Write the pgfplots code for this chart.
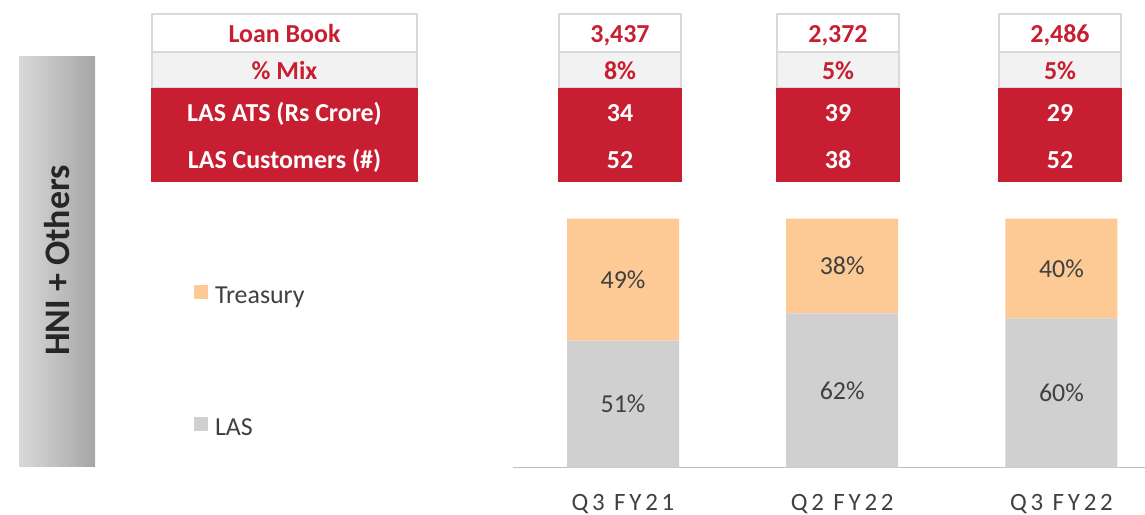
\documentclass[border=0pt]{standalone}
\usepackage{pgfplots}
\pgfplotsset{compat=1.18}
\usepackage{fontspec}
\setmainfont{Carlito}
\definecolor{hred}{HTML}{C81E32}
\definecolor{treas}{HTML}{FDC994}
\definecolor{lasg}{HTML}{D0D0D0}
\definecolor{txt}{HTML}{404040}
\definecolor{bord}{HTML}{D9D9D9}
\definecolor{mixbg}{HTML}{F2F2F2}
\definecolor{axl}{HTML}{BFBFBF}
\newcommand{\fs}[1]{\fontsize{#1}{#1}\selectfont}
\pgfplotsset{geom/.style={
  at={(513bp,-467.7bp)}, anchor=south west,
  scale only axis, width=632bp, height=249bp,
  xmin=-0.5017, xmax=2.381, ymin=0, ymax=100, enlargelimits=false, clip=false}}
\begin{document}
\begin{tikzpicture}[x=1bp,y=1bp]
\path[use as bounding box] (0,0) rectangle (1145,-515);
% side box
\shade[left color=gray!30, middle color=gray!40, right color=gray!70] (19,-57) rectangle (95,-466);
\node[rotate=90, font=\fs{36}\bfseries, text=black!85, inner sep=0pt] at (57.5,-260.5) {HNI + Others};
% table
\foreach \a/\b in {152/417, 559/681, 777/899, 999/1121} {
  \filldraw[fill=white, draw=bord, line width=1.5bp] (\a,-14) rectangle (\b,-52);
  \filldraw[fill=mixbg, draw=bord, line width=1.5bp] (\a,-52) rectangle (\b,-88);
  \fill[hred] (\a-1,-88) rectangle (\b+1,-182);
}
\begin{scope}[every node/.style={anchor=base, inner sep=0pt, font=\fs{26}\bfseries}]
\node[text=hred] at (284.5,-43) {Loan Book};
\node[text=hred] at (284.5,-80) {\% Mix};
\node[text=white] at (284.5,-122) {LAS ATS (Rs Crore)};
\node[text=white] at (284.5,-168.5) {LAS Customers (\#)};
\node[text=hred] at (620,-43) {3,437};
\node[text=hred] at (838,-43) {2,372};
\node[text=hred] at (1060,-43) {2,486};
\node[text=hred] at (620,-80) {8\%};
\node[text=hred] at (838,-80) {5\%};
\node[text=hred] at (1060,-80) {5\%};
\node[text=white] at (620,-122) {34};
\node[text=white] at (838,-122) {39};
\node[text=white] at (1060,-122) {29};
\node[text=white] at (620,-168.5) {52};
\node[text=white] at (838,-168.5) {38};
\node[text=white] at (1060,-168.5) {52};
\end{scope}
\begin{axis}[geom,
  ybar stacked, bar width=112bp,
  axis x line*=bottom, axis y line=none,
  x axis line style={draw=axl, line width=1.5bp},
  xtick={0,1,2}, xticklabels={Q3 FY21, Q2 FY22, Q3 FY22},
  xtick style={draw=none}, ytick=\empty,
  xticklabel style={font=\fs{25}\addfontfeature{LetterSpace=15}, text=txt, anchor=north, inner sep=0pt, yshift=-26bp},
  legend style={at={(axis description cs:-0.50475,0.7337)}, anchor=north west, draw=none, fill=none, inner sep=0pt, outer sep=0pt, row sep=113bp, column sep=7bp, font=\fs{26}, text=txt, nodes={inner sep=0pt, text height=17bp, text depth=0pt, yshift=6bp}},
  legend cell align=left,
  reverse legend,
  legend image code/.code={\fill[#1] (0bp,2bp) rectangle (14bp,16bp);},
]
\addplot[fill=lasg, draw=none] coordinates {(0,51) (1,62) (2,60)};
\addlegendentry{LAS}
\addplot[fill=treas, draw=none] coordinates {(0,49) (1,38) (2,40)};
\addlegendentry{Treasury}
\end{axis}
% segment labels, placed at each segment's middle
\begin{axis}[geom, hide axis,
  nodes near coords={\pgfplotspointmeta\%},
  point meta=explicit symbolic,
  every node near coord/.append style={anchor=center, inner sep=0pt, font=\fs{26}, text=txt}]
\addplot[draw=none, mark=none] coordinates {(0,25.5)[51] (1,31)[62] (2,30)[60]};
\addplot[draw=none, mark=none] coordinates {(0,75.5)[49] (1,81)[38] (2,80)[40]};
\end{axis}
\end{tikzpicture}
\end{document}
